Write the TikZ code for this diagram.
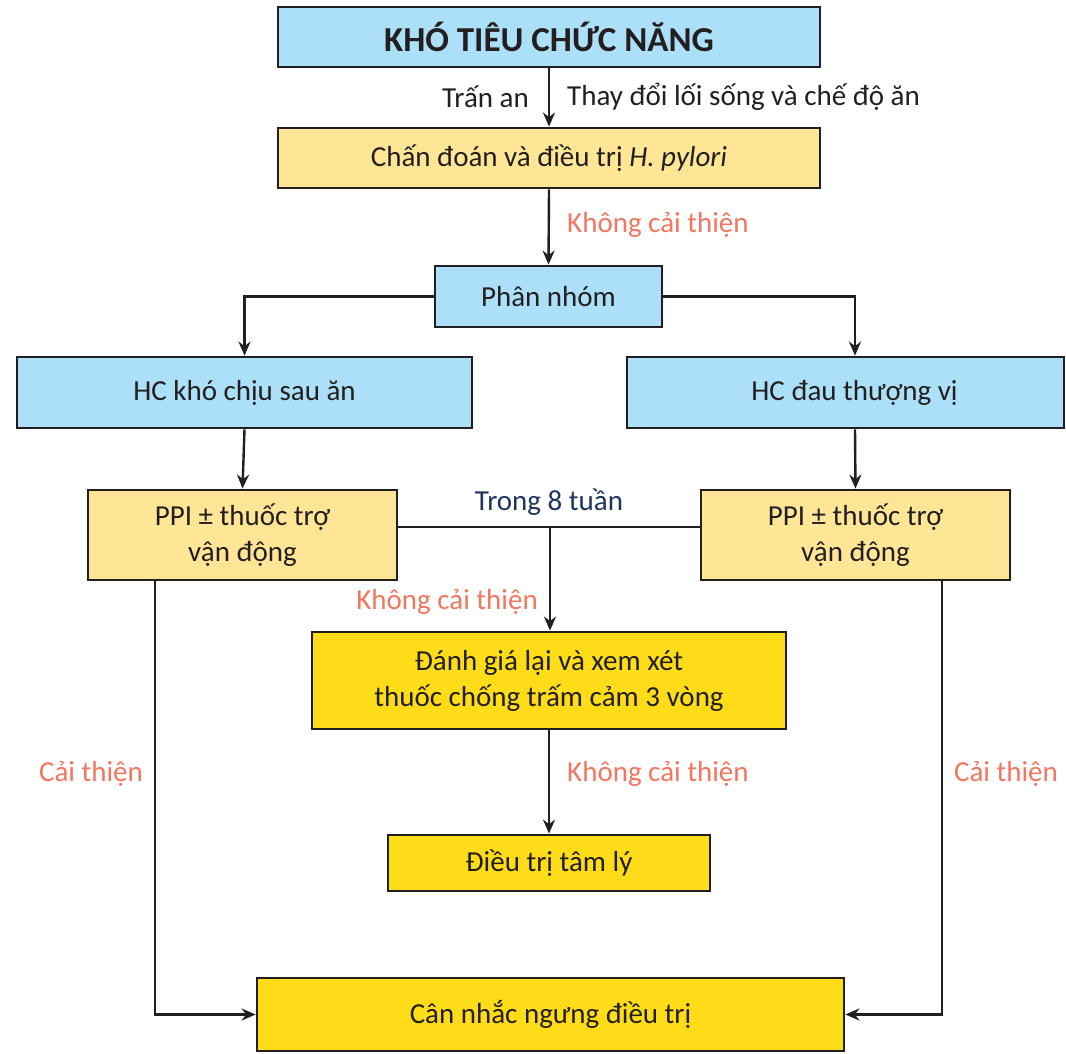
\documentclass[tikz,border=0pt]{standalone}
\usepackage{fontspec}
\setmainfont{Carlito}
\usetikzlibrary{arrows.meta}
\definecolor{bluebox}{HTML}{ABE0F8}
\definecolor{lightyel}{HTML}{FEE696}
\definecolor{yel}{HTML}{FEDC18}
\definecolor{salmon}{HTML}{F3765E}
\definecolor{navy}{HTML}{1E3560}
\definecolor{ink}{HTML}{231F20}
\begin{document}
\begin{tikzpicture}[x=1pt,y=-1pt,
  box/.style={draw=ink,line width=2.8pt,inner sep=0pt,align=center,text=ink,
    font=\fontsize{29}{36}\selectfont},
  bbox/.style={box,fill=bluebox},
  lybox/.style={box,fill=lightyel},
  ybox/.style={box,fill=yel},
  arr/.style={draw=ink,line width=2.4pt,-{Stealth[length=14pt,width=12pt]}},
  ln/.style={draw=ink,line width=2.4pt},
  lbl/.style={inner sep=0pt,font=\fontsize{29}{34}\selectfont},
  red/.style={lbl,text=salmon}]
\useasboundingbox (0,0) rectangle (1066,1053);
\fill[white] (0,0) rectangle (1066,1053);

\node[bbox,minimum width=542pt,minimum height=60pt,font=\fontsize{35}{40}\selectfont\bfseries] (title) at (549,37) {KHÓ TIÊU CHỨC NĂNG};
\node[lybox,minimum width=542pt,minimum height=60pt] (hp) at (549,158) {Chấn đoán và điều trị \textit{H. pylori}};
\node[bbox,minimum width=227pt,minimum height=61pt] (pn) at (548.5,296.5) {Phân nhóm};
\node[bbox,minimum width=455pt,minimum height=71pt] (hc1) at (244.5,392.5) {HC khó chịu sau ăn};
\node[bbox,minimum width=437pt,minimum height=71pt] (hc2) at (845.5,392.5) {\hspace*{18pt}HC đau thượng vị};
\node[lybox,minimum width=309pt,minimum height=90pt] (ppi1) at (242.5,535) {PPI ± thuốc trợ\\vận động};
\node[lybox,minimum width=309pt,minimum height=90pt] (ppi2) at (855.5,535) {PPI ± thuốc trợ\\vận động};
\node[ybox,minimum width=474pt,minimum height=97pt] (eval) at (549,680.5) {Đánh giá lại và xem xét\\thuốc chống trấm cảm 3 vòng};
\node[ybox,minimum width=322pt,minimum height=56pt] (psy) at (549,863) {Điều trị tâm lý};
\node[ybox,minimum width=587pt,minimum height=73pt] (stop) at (550.5,1014.5) {Cân nhắc ngưng điều trị};

\coordinate (j) at (550,527);
\coordinate (cl) at (155,0);
\coordinate (cr) at (942,0);
\coordinate (hc2x) at (855,0);

\draw[arr] (title.south) -- (hp.north);
\node[lbl,text=ink,anchor=east] (l1) at (529,97) {Trấn an};
\node[lbl,text=ink,anchor=west] (l2) at (567,97) {Thay đổi lối sống và chế độ ăn};

\draw[arr] (hp.south) -- (pn.north);
\node[red,anchor=west] (l3) at (567,225) {Không cải thiện};

\draw[arr] (pn.west) -| (hc1.north);
\draw[arr] (pn.east) -| (hc2.north -| hc2x);

\draw[arr] (hc1.south) -- (ppi1.north);
\draw[arr] (hc2.south -| hc2x) -- (ppi2.north);

\draw[ln] (ppi1.east |- j) -- (ppi2.west |- j);
\node[lbl,text=navy] (l4) at (549,502) {Trong 8 tuần};
\draw[arr] (j) -- (eval.north -| j);
\node[red,anchor=east] (l5) at (538,602) {Không cải thiện};

\draw[arr] (eval.south -| psy.north) -- (psy.north);
\node[red,anchor=west] (l6) at (567,774) {Không cải thiện};

\draw[arr] (ppi1.south -| cl) |- (stop.west);
\draw[arr] (ppi2.south -| cr) |- (stop.east);
\node[red] (l7) at (91,774) {Cải thiện};
\node[red] (l8) at (1006,774) {Cải thiện};
\end{tikzpicture}
\end{document}
